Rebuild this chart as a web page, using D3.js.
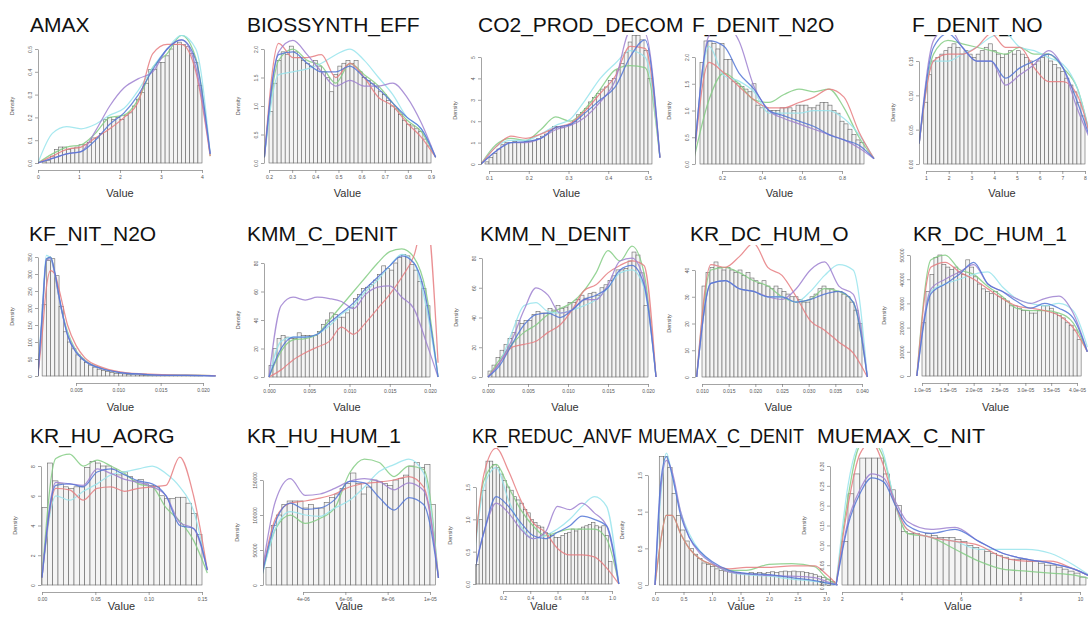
<!DOCTYPE html>
<html><head><meta charset="utf-8">
<script src="https://cdn.jsdelivr.net/npm/d3@7"></script>
<style>body{margin:0;background:#fff}svg{display:block}</style>
</head><body><svg id="c" width="1088" height="621"></svg>
<script>
// ---------------- DATA ----------------
const titles = ["AMAX","BIOSSYNTH_EFF","CO2_PROD_DECOM","F_DENIT_N2O","F_DENIT_NO","KF_NIT_N2O","KMM_C_DENIT","KMM_N_DENIT","KR_DC_HUM_O","KR_DC_HUM_1","KR_HU_AORG","KR_HU_HUM_1","KR_REDUC_ANVF","MUEMAX_C_DENIT","MUEMAX_C_NIT"];

const xTickLabels = [
 ["0","1","2","3","4"],
 ["0.2","0.3","0.4","0.5","0.6","0.7","0.8","0.9"],
 ["0.1","0.2","0.3","0.4","0.5"],
 ["0.2","0.4","0.6","0.8"],
 ["1","2","3","4","5","6","7","8"],
 ["0.005","0.010","0.015","0.020"],
 ["0.000","0.005","0.010","0.015","0.020"],
 ["0.000","0.005","0.010","0.015","0.020"],
 ["0.010","0.015","0.020","0.025","0.030","0.035","0.040"],
 ["1.0e-05","1.5e-05","2.0e-05","2.5e-05","3.0e-05","3.5e-05","4.0e-05"],
 ["0.00","0.05","0.10","0.15"],
 ["4e-06","6e-06","8e-06","1e-05"],
 ["0.2","0.4","0.6","0.8","1.0"],
 ["0.0","0.5","1.0","1.5","2.0","2.5","3.0"],
 ["2","4","6","8","10"]
];

const yTickLabels = [
 ["0.0","0.1","0.2","0.3","0.4","0.5"],
 ["0.0","0.5","1.0","1.5","2.0"],
 ["0","1","2","3","4","5"],
 ["0.0","0.5","1.0","1.5","2.0"],
 ["0.00","0.05","0.10","0.15"],
 ["0","50","100","150","200","250","300","350"],
 ["0","20","40","60","80"],
 ["0","20","40","60","80"],
 ["0","10","20","30","40"],
 ["0","10000","20000","30000","40000","50000"],
 ["0","2","4","6","8"],
 ["0","50000","100000","150000"],
 ["0.0","0.5","1.0","1.5"],
 ["0.0","0.5","1.0","1.5"],
 ["0.00","0.05","0.10","0.15","0.20","0.25","0.30"]
];

const binStart = [0.1, 0.2, 0.09, 0.09, 0.9, 0.001, 0, 0, 0.010, 1.0e-5, 0, 2.25e-6, 0, 0.075, 2.0];
const binWidth = [0.1, 0.0175, 0.01, 0.02, 0.1775, 0.0005, 0.0005, 0.0005, 0.00075, 0.77e-6, 0.005, 0.25e-6, 0.025, 0.075, 0.2];

const binHeights = [
 [0.005,0.01,0.03,0.06,0.07,0.07,0.06,0.065,0.07,0.08,0.08,0.09,0.11,0.11,0.13,0.19,0.2,0.19,0.2,0.19,0.21,0.22,0.25,0.28,0.31,0.35,0.41,0.41,0.44,0.44,0.47,0.5,0.52,0.53,0.52,0.51,0.48,0.44,0.34],
 [0.9,1.4,1.8,1.95,1.9,2.05,1.95,1.85,1.8,1.75,1.7,1.8,1.7,1.6,1.5,1.25,1.55,1.7,1.75,1.8,1.75,1.8,1.6,1.5,1.45,1.4,1.35,1.25,1.2,1.1,1.0,0.95,0.85,0.75,0.68,0.65,0.6,0.55,0.42,0.3],
 [0.1,0.3,0.5,0.7,0.9,1.0,1.0,1.05,1.0,1.0,1.05,1.05,1.1,1.2,1.3,1.4,1.55,1.75,1.75,1.7,1.8,1.85,2.0,2.3,2.4,2.6,2.9,3.1,3.3,3.5,3.6,3.9,4.0,4.4,4.7,5.2,5.7,6.0,6.0,5.8,5.3,4.0],
 [1.9,2.3,2.3,2.25,2.15,2.25,1.95,1.95,1.55,1.5,1.45,1.4,1.35,1.5,1.1,1.05,1.05,1.0,1.0,1.0,1.05,1.05,1.05,1.0,1.1,1.1,1.1,1.05,1.05,1.1,1.15,1.15,1.1,1.0,0.95,0.8,0.75,0.65,0.55,0.45,0.4],
 [0.09,0.13,0.15,0.155,0.16,0.165,0.17,0.175,0.17,0.16,0.165,0.16,0.155,0.16,0.165,0.17,0.175,0.165,0.16,0.155,0.16,0.165,0.16,0.165,0.16,0.155,0.15,0.145,0.15,0.155,0.16,0.15,0.145,0.14,0.135,0.125,0.115,0.105,0.09,0.07],
 [210,340,345,295,205,130,100,80,62,50,40,32,26,20,16,13,10,8,7,6,5,4,3.5,3,2.5,2,2,1.5,1.5,1.2,1,1,0.8,0.8,0.6,0.5,0.5,0.5],
 [8,20,27,29,28,27,27,31,29,29,29,29,32,37,40,45,44,42,42,45,49,55,58,62,63,65,68,72,78,76,75,80,84,86,85,79,75,67,62,50],
 [4,8,13,18,22,26,30,38,36,38,38,42,44,43,43,46,45,48,46,47,50,50,52,55,53,56,57,55,60,62,65,68,72,72,73,78,84,82,70,48],
 [34,39,41,43,41,40,41,40,39,40,38,39,37,36,35,36,34,33,34,33,32,31,30,30,29,28,28,30,31,33,34,33,33,32,32,31,30,28,25,20],
 [22000,35000,42000,49000,50000,46000,45000,44000,45000,43000,42000,48000,45000,41000,38000,36000,35000,34000,35000,33000,32000,31000,29000,29000,28000,27000,27000,26000,26000,27000,29000,29000,28000,26000,25000,24000,22000,21000,19000,15000],
 [5.2,8.2,7.0,6.8,6.6,6.5,6.6,6.6,7.9,8.3,8.2,8.0,8.0,7.8,7.4,7.6,7.3,7.0,7.1,6.8,6.7,6.6,6.0,5.8,5.8,5.9,5.9,5.5,4.8,3.4],
 [25000,85000,100000,115000,120000,120000,120000,110000,115000,110000,110000,118000,125000,130000,138000,145000,160000,145000,130000,140000,150000,148000,145000,142000,150000,152000,157000,170000,175000,168000,172000,115000],
 [0.3,1.0,1.45,1.9,1.9,1.85,1.8,1.7,1.6,1.5,1.45,1.35,1.3,1.25,1.15,1.1,1.0,0.95,0.9,0.88,0.8,0.78,0.75,0.72,0.72,0.75,0.78,0.8,0.85,0.82,0.85,0.88,0.9,0.92,0.95,0.9,0.88,0.9,0.75,0.35],
 [1.75,1.75,1.6,1.25,0.95,0.75,0.6,0.5,0.42,0.36,0.3,0.28,0.25,0.22,0.2,0.19,0.18,0.17,0.17,0.16,0.16,0.17,0.16,0.17,0.16,0.17,0.18,0.17,0.18,0.19,0.18,0.19,0.18,0.18,0.17,0.16,0.14,0.12,0.1,0.08,0.05],
 [0.11,0.23,0.28,0.32,0.32,0.32,0.32,0.28,0.24,0.2,0.135,0.13,0.13,0.125,0.13,0.125,0.12,0.12,0.12,0.115,0.11,0.1,0.095,0.09,0.085,0.08,0.075,0.07,0.065,0.065,0.065,0.06,0.06,0.055,0.05,0.05,0.045,0.04,0.035,0.03,0.02]
];

// x positions of density-curve samples: [from, to] means evenly spaced over the curve values
const curveX = [
 [0, 4.2],
 [0.18, 0.92],
 [0.08, 0.53],
 [0.06, 0.96],
 [0.7, 8.3],
 [0.0005,0.001,0.0015,0.002,0.0025,0.003,0.004,0.005,0.006,0.008,0.01,0.013,0.016,0.02,0.0215],
 [0, 0.021],
 [0, 0.021],
 [0.009, 0.041],
 [0.9e-5, 4.2e-5],
 [0, 0.155],
 [2.0e-6, 10.4e-6],
 [-0.03, 1.05],
 [0,0.1,0.2,0.3,0.45,0.6,0.8,1.0,1.3,1.6,2.0,2.4,2.8,3.0,3.2],
 [1.8,2.2,2.6,3.0,3.4,3.8,4.2,5.0,5.8,6.6,7.4,8.2,9.0,9.8,10.4]
];

const curveRed = [
 [0,0.03,0.06,0.07,0.11,0.15,0.2,0.27,0.48,0.52,0.52,0.4,0.03],
 [0.1,2.1,1.85,1.85,1.9,1.5,1.75,1.5,1.15,1.0,0.7,0.45,0.1],
 [0,0.8,1.3,1.2,1.4,1.7,1.9,2.5,3.3,4.1,5.5,5.4,0.3],
 [0.1,1.9,1.7,1.45,1.2,1.05,1.05,1.15,1.25,1.4,1.25,0.6,0.1],
 [0.03,0.15,0.16,0.16,0.17,0.19,0.17,0.17,0.14,0.12,0.12,0.1,0.03],
 [0,120,260,310,300,255,150,90,55,26,13,6,3,2,1],
 [0,5,12,17,21,25,35,30,38,48,58,70,85,115,10],
 [0,10,20,22,24,30,35,45,58,62,70,75,78,75,0],
 [0,42,41,45,50,41,38,30,21,17.5,13,9,0],
 [0,45000,47000,43000,40000,36000,32000,29000,28000,27000,25000,20000,10000],
 [0.5,6.5,6.4,5.7,6.5,6.6,6.3,6.5,6.6,6.7,8.6,6.0,1.0],
 [5000,95000,117000,120000,124000,130000,140000,145000,147000,150000,155000,140000,10000],
 [0,1.7,2.1,1.75,1.3,0.95,0.8,0.55,0.45,0.45,0.42,0.25,0],
 [0,0.6,0.95,0.95,0.7,0.5,0.35,0.28,0.22,0.24,0.24,0.26,0.26,0.15,0],
 [0,0.2,0.33,0.36,0.3,0.2,0.14,0.12,0.11,0.1,0.07,0.06,0.06,0.04,0.02]
];
const curveGreen = [
 [0,0.04,0.07,0.08,0.13,0.2,0.21,0.28,0.42,0.48,0.56,0.46,0.03],
 [0.1,1.8,2.0,1.8,1.7,1.4,1.75,1.55,1.35,1.05,0.75,0.55,0.1],
 [0,0.9,1.2,1.1,1.6,2.2,2.0,2.6,3.5,4.4,4.6,4.5,0.3],
 [0.1,1.2,1.7,1.5,1.2,1.15,1.3,1.4,1.35,1.4,1.05,0.5,0.1],
 [0.03,0.16,0.18,0.175,0.17,0.165,0.16,0.17,0.16,0.16,0.14,0.11,0.03],
 [0,170,340,350,300,230,130,75,48,23,11,5,3,2,1],
 [0,18,26,27,30,40,50,60,70,80,88,90,84,60,0],
 [0,12,22,30,35,42,46,50,58,70,85,78,88,70,0],
 [0,40,41,39,36,34,30,28,29,33,32,28,0],
 [0,48000,50000,44000,42000,37000,33000,28000,27000,27000,26000,22000,10000],
 [0.5,8.5,8.8,8.0,8.4,8.0,7.5,6.8,6.6,5.2,4.3,3.0,0.8],
 [5000,80000,100000,88000,95000,110000,160000,180000,175000,155000,170000,165000,10000],
 [0,1.6,1.85,1.5,1.15,0.9,0.75,0.8,0.85,0.85,0.85,0.7,0],
 [0,0.6,0.95,0.95,0.7,0.5,0.35,0.28,0.2,0.2,0.28,0.29,0.25,0.1,0],
 [0,0.22,0.35,0.36,0.32,0.2,0.13,0.12,0.09,0.06,0.04,0.035,0.03,0.025,0.015]
];
const curveCyan = [
 [0,0.13,0.16,0.15,0.17,0.21,0.24,0.32,0.42,0.5,0.56,0.5,0.04],
 [0.1,1.55,1.6,1.65,1.75,1.9,2.0,1.8,1.5,1.2,0.8,0.6,0.1],
 [0,0.8,1.1,1.1,1.4,1.8,2.1,3.0,4.0,4.7,5.3,5.0,0.3],
 [0.1,2.2,1.65,1.55,1.35,0.95,0.95,0.95,1.0,1.0,0.85,0.55,0.1],
 [0.03,0.15,0.15,0.16,0.17,0.185,0.19,0.17,0.165,0.155,0.145,0.11,0.03],
 [0,190,355,345,300,230,125,72,46,22,11,5,3,1,0],
 [0,25,28,28,30,36,44,50,60,68,78,86,80,50,0],
 [0,10,30,48,50,44,43,45,48,52,60,70,72,60,0],
 [0,35,36,33,32,30,30,28,32,38,42,40,0],
 [0,35000,38000,40000,42000,43000,37000,32000,30000,29000,30000,27000,12000],
 [0.5,6.0,5.7,6.3,6.8,7.4,7.6,7.8,8.0,7.5,6.6,5.0,1.0],
 [5000,80000,105000,100000,98000,110000,121000,140000,162000,172000,180000,160000,10000],
 [0,1.5,1.8,1.3,0.9,0.7,0.75,0.85,1.0,1.2,1.35,1.2,0],
 [0,1.2,1.8,1.5,1.0,0.7,0.45,0.3,0.18,0.14,0.12,0.08,0.05,0.03,0],
 [0,0.25,0.36,0.38,0.33,0.2,0.14,0.12,0.11,0.09,0.09,0.09,0.08,0.05,0.02]
];
const curveBlue = [
 [0,0.02,0.04,0.05,0.1,0.17,0.22,0.3,0.41,0.5,0.54,0.45,0.04],
 [0.1,1.9,1.95,1.75,1.6,1.6,1.7,1.5,1.3,1.05,0.8,0.6,0.1],
 [0,0.6,1.0,1.05,1.2,1.7,1.85,2.4,3.0,3.6,5.0,5.8,0.3],
 [0.1,2.3,2.2,1.7,1.4,1.0,0.9,0.8,0.7,0.55,0.45,0.35,0.1],
 [0.03,0.17,0.19,0.17,0.15,0.15,0.125,0.14,0.15,0.16,0.14,0.09,0.03],
 [0,180,345,350,305,235,120,70,45,22,11,5,2,1,0],
 [0,20,28,28,30,38,45,52,62,70,78,85,80,55,0],
 [0,8,22,35,42,43,40,45,52,55,60,72,75,62,0],
 [0,35,36,33,32,30,30,28,29,31,32,28,0],
 [0,34000,38000,42000,47000,38000,35000,31000,28000,30000,28000,24000,10000],
 [0.5,6.7,6.8,6.6,7.6,7.8,7.4,7.0,6.8,6.0,4.0,3.8,1.0],
 [5000,90000,117000,108000,110000,122000,148000,146000,125000,107000,125000,115000,10000],
 [0,0.8,1.35,1.2,0.95,0.75,0.7,0.8,0.9,1.05,1.0,0.9,0],
 [0,1.4,1.75,1.5,0.95,0.65,0.45,0.32,0.2,0.16,0.14,0.1,0.06,0.03,0],
 [0,0.15,0.23,0.27,0.26,0.2,0.15,0.13,0.14,0.11,0.08,0.065,0.055,0.04,0.02]
];
const curvePurple = [
 [0,0.02,0.04,0.05,0.14,0.25,0.33,0.37,0.4,0.5,0.54,0.42,0.04],
 [0.1,1.95,2.15,1.9,1.6,1.35,1.45,1.35,1.35,1.4,1.15,0.7,0.1],
 [0,0.6,1.0,1.0,1.2,1.6,1.8,2.2,2.9,3.9,6.2,6.1,0.3],
 [0.1,2.4,2.6,2.3,1.45,1.0,0.85,0.75,0.65,0.55,0.45,0.3,0.1],
 [0.03,0.18,0.2,0.17,0.15,0.15,0.115,0.13,0.145,0.165,0.14,0.08,0.03],
 [0,170,340,345,300,230,122,72,46,22,11,5,2,1,0],
 [0,50,56,54,56,55,53,48,58,63,64,56,48,25,0],
 [0,10,25,45,60,55,43,45,52,52,62,78,80,65,0],
 [0,35,36,33,32,30,29,33,40,43,34,31,0],
 [0,36000,40000,43000,46000,38000,35000,32000,30000,32000,33000,26000,10000],
 [0.5,6.9,6.8,6.7,7.8,7.5,7.1,6.9,6.6,6.0,4.2,3.8,1.0],
 [5000,120000,152000,128000,130000,138000,148000,152000,148000,136000,146000,135000,10000],
 [0,0.8,1.25,1.1,0.85,0.7,0.8,1.2,1.15,1.25,1.1,0.9,0],
 [0,1.3,1.7,1.55,1.0,0.65,0.42,0.3,0.18,0.15,0.13,0.12,0.1,0.05,0],
 [0,0.16,0.24,0.28,0.27,0.21,0.16,0.14,0.145,0.11,0.08,0.065,0.055,0.04,0.02]
];

// ---------------- LAYOUT ----------------
const rows = [
 {ty:32, clipTop:35, valueY:197},
 {ty:241, clipTop:245, valueY:411},
 {ty:443, clipTop:448, valueY:610}
];
const layout = [
 {row:0, tx:30,  ax:38,  xp:[38,202],  yb:163, yt:49},
 {row:0, tx:247, ax:264, xp:[269,431], yb:163, yt:49},
 {row:0, tx:478, ax:481, xp:[489,648], yb:164, yt:57},
 {row:0, tx:692, ax:695, xp:[722,842], yb:164, yt:57},
 {row:0, tx:912, ax:919, xp:[926,1085], yb:164, yt:61},
 {row:1, tx:29,  ax:38,  xp:[76,203],  yb:376, yt:257},
 {row:1, tx:247, ax:264, xp:[269,430], yb:377, yt:263},
 {row:1, tx:480, ax:482, xp:[488,648], yb:377, yt:258},
 {row:1, tx:690, ax:695, xp:[702,862], yb:377, yt:270},
 {row:1, tx:913, ax:910, xp:[922,1077], yb:376, yt:255},
 {row:2, tx:30,  ax:41,  xp:[42,202],  yb:585, yt:466},
 {row:2, tx:247, ax:263, xp:[303,430], yb:585, yt:480},
 {row:2, tx:472, ax:476, xp:[503,612], yb:584, yt:487, tw:160},
 {row:2, tx:638, ax:648, xp:[655,826], yb:585, yt:475, tw:166},
 {row:2, tx:817, ax:830, xp:[842,1080], yb:585, yt:466, tw:168}
];
const curveStyles = [
 {set:curveGreen,  color:"#84cc84"},
 {set:curveCyan,   color:"#98e4ec"},
 {set:curveRed,    color:"#e67c80"},
 {set:curvePurple, color:"#9d80d0"},
 {set:curveBlue,   color:"#5276d6"}
];
const FONT = "'Liberation Sans', Arial, Helvetica, sans-serif";

// ---------------- DRAW ----------------
const svg = d3.select("#c");
const defs = svg.append("defs");

titles.forEach((title, i) => {
  const L = layout[i], R = rows[L.row];
  const xt = xTickLabels[i].map(Number), yt = yTickLabels[i].map(Number);
  const x = d3.scaleLinear().domain([xt[0], xt[xt.length-1]]).range(L.xp);
  const y = d3.scaleLinear().domain([0, yt[yt.length-1]]).range([L.yb, L.yt]);
  const g = svg.append("g");

  const tt = g.append("text").attr("x", L.tx).attr("y", R.ty).text(title)
    .attr("font-family", FONT).attr("font-size", 21).attr("fill", "#111");
  if (L.tw) tt.attr("textLength", L.tw).attr("lengthAdjust", "spacingAndGlyphs");

  // histogram bars
  const hs = binHeights[i], s0 = binStart[i], w = binWidth[i];
  g.append("g").selectAll("rect").data(hs).join("rect")
    .attr("x", (d, j) => x(s0 + j * w))
    .attr("width", (d, j) => x(s0 + (j + 1) * w) - x(s0 + j * w))
    .attr("y", d => y(d))
    .attr("height", d => y(0) - y(d))
    .attr("fill", "#f4f4f4").attr("stroke", "#666").attr("stroke-width", 0.6);

  // density curves
  const cid = "clip" + i;
  defs.append("clipPath").attr("id", cid).append("rect")
    .attr("x", L.ax).attr("y", R.clipTop).attr("width", 260).attr("height", L.yb - R.clipTop + 1);
  const cg = g.append("g").attr("clip-path", `url(#${cid})`);
  const line = d3.line().x(d => x(d[0])).y(d => y(d[1])).curve(d3.curveMonotoneX);
  curveStyles.forEach(cs => {
    const vals = cs.set[i];
    let xs = curveX[i];
    if (xs.length === 2 && vals.length !== 2) {
      const a = xs[0], b = xs[1], n = vals.length - 1;
      xs = vals.map((v, k) => a + (b - a) * k / n);
    }
    cg.append("path").datum(vals.map((v, k) => [xs[k], v]))
      .attr("d", line).attr("fill", "none").attr("stroke", cs.color)
      .attr("stroke-width", 1.25).attr("stroke-opacity", 0.85);
  });

  // y axis
  const ya = g.append("g").attr("transform", `translate(${L.ax},0)`)
    .call(d3.axisLeft(y).tickValues(yt).tickFormat((d, k) => yTickLabels[i][k]).tickSize(3).tickSizeOuter(0));
  ya.selectAll("text").attr("x", 0).attr("y", -6).attr("dy", 0)
    .attr("transform", "rotate(-90)").attr("text-anchor", "middle");
  // x axis
  const xa = g.append("g").attr("transform", `translate(0,${L.yb + 7})`)
    .call(d3.axisBottom(x).tickValues(xt).tickFormat((d, k) => xTickLabels[i][k]).tickSize(3).tickSizeOuter(0));
  xa.selectAll("text").attr("y", 5).attr("dy", "0.71em");
  [ya, xa].forEach(a => {
    a.selectAll("path,line").attr("stroke", "#666").attr("stroke-width", 0.6);
    a.selectAll("text").attr("font-size", 5).attr("fill", "#555").attr("font-family", FONT);
  });

  g.append("text").text("Density")
    .attr("transform", `translate(${L.ax - 24},${(L.yb + L.yt) / 2}) rotate(-90)`)
    .attr("text-anchor", "middle").attr("font-size", 5.5).attr("fill", "#555").attr("font-family", FONT);

  const xEnd = x(s0 + hs.length * w);
  g.append("text").text("Value")
    .attr("x", (L.ax + xEnd) / 2).attr("y", R.valueY)
    .attr("text-anchor", "middle").attr("font-size", 11).attr("fill", "#333").attr("font-family", FONT);
});
</script>
</body></html>
